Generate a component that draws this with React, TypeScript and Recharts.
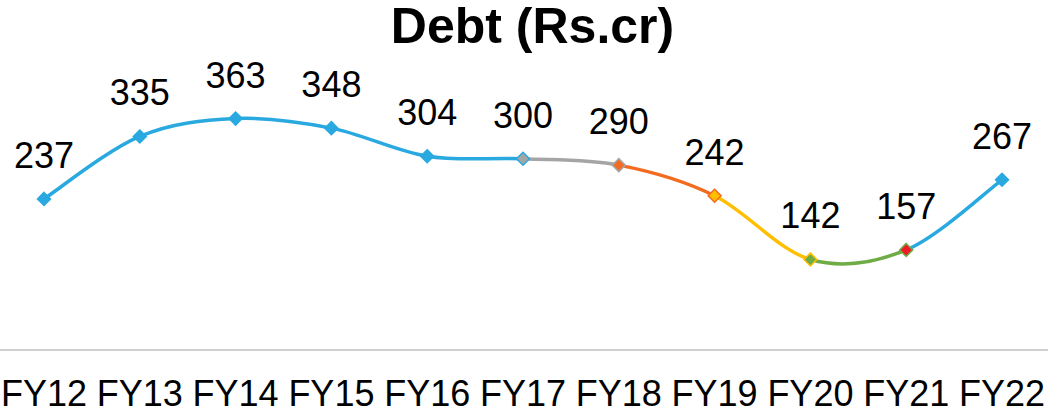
import { LineChart, Line, XAxis, YAxis, LabelList } from 'recharts';

const years = ['FY12', 'FY13', 'FY14', 'FY15', 'FY16', 'FY17', 'FY18', 'FY19', 'FY20', 'FY21', 'FY22'];
const debt = [237, 335, 363, 348, 304, 300, 290, 242, 142, 157, 267];

const BLUE = '#29A9DF';
const GRAY = '#A5A5A5';
const ORANGE = '#F26B21';
const YELLOW = '#FFBF00';
const GREEN = '#6FAC46';
const RED = '#EE1C25';

// colour of the segment leaving each point
const segColors = [BLUE, BLUE, BLUE, BLUE, BLUE, GRAY, ORANGE, YELLOW, GREEN, BLUE];
const dotFill = [BLUE, BLUE, BLUE, BLUE, BLUE, GRAY, ORANGE, YELLOW, GREEN, RED, BLUE];
const dotStroke = [BLUE, BLUE, BLUE, BLUE, BLUE, BLUE, GRAY, ORANGE, YELLOW, GREEN, BLUE];

const data = years.map((y, i) => ({ year: y, debt: debt[i] }));

// excel-like smoothing (catmull-rom style bezier)
const smoothCurve = (ctx: any) => {
  let pts: number[][] = [];
  return {
    areaStart() {},
    areaEnd() {},
    lineStart() { pts = []; },
    point(x: number, y: number) { pts.push([+x, +y]); },
    lineEnd() {
      if (!pts.length) return;
      ctx.moveTo(pts[0][0], pts[0][1]);
      for (let i = 0; i < pts.length - 1; i++) {
        const p0 = pts[i - 1] || pts[i];
        const p1 = pts[i];
        const p2 = pts[i + 1];
        const p3 = pts[i + 2] || p2;
        ctx.bezierCurveTo(
          p1[0] + (p2[0] - p0[0]) / 6, p1[1] + (p2[1] - p0[1]) / 6,
          p2[0] - (p3[0] - p1[0]) / 6, p2[1] - (p3[1] - p1[1]) / 6,
          p2[0], p2[1]
        );
      }
    },
  };
};

const Diamond = (props: any) => {
  const { cx, cy, index } = props;
  if (cx == null || cy == null) return null;
  const r = 6.5;
  return (
    <polygon
      key={index}
      points={`${cx},${cy - r} ${cx + r},${cy} ${cx},${cy + r} ${cx - r},${cy}`}
      fill={dotFill[index]}
      stroke={dotStroke[index]}
      strokeWidth={1.5}
    />
  );
};

const font = '"Liberation Sans", Arial, sans-serif';

export default function App() {
  const n = years.length - 1;
  return (
    <div style={{ position: 'absolute', left: 0, top: 0, width: 1048, height: 413, background: '#fff', fontFamily: font }}>
      <div style={{ position: 'absolute', left: 0, top: 1, width: 1065, textAlign: 'center', fontSize: 50, lineHeight: '50px', fontWeight: 'bold', color: '#000' }}>
        Debt (Rs.cr)
      </div>
      <LineChart width={1048} height={413} data={data} margin={{ top: 95, right: -2, bottom: 0, left: -4 }}>
        <defs>
          <linearGradient id="segStroke" x1="0" y1="0" x2="1" y2="0">
            {segColors.map((c, i) => [
              <stop key={`a${i}`} offset={i / n} stopColor={c} />,
              <stop key={`b${i}`} offset={(i + 1) / n} stopColor={c} />,
            ])}
          </linearGradient>
        </defs>
        <XAxis
          dataKey="year"
          padding={{ left: 48, right: 48 }}
          axisLine={{ stroke: '#A0A0A0', strokeWidth: 1 }}
          tickLine={false}
          tickSize={0}
          tickMargin={30}
          height={63}
          interval={0}
          tick={{ fill: '#000', fontSize: 36, fontFamily: font }}
        />
        <YAxis hide domain={[0, 400]} />
        <Line
          dataKey="debt"
          type={smoothCurve as any}
          stroke="url(#segStroke)"
          strokeWidth={3.5}
          dot={<Diamond />}
          activeDot={false}
          isAnimationActive={false}
        >
          <LabelList dataKey="debt" position="top" offset={31} fill="#000" fontSize={36} fontFamily={font} />
        </Line>
      </LineChart>
    </div>
  );
}
